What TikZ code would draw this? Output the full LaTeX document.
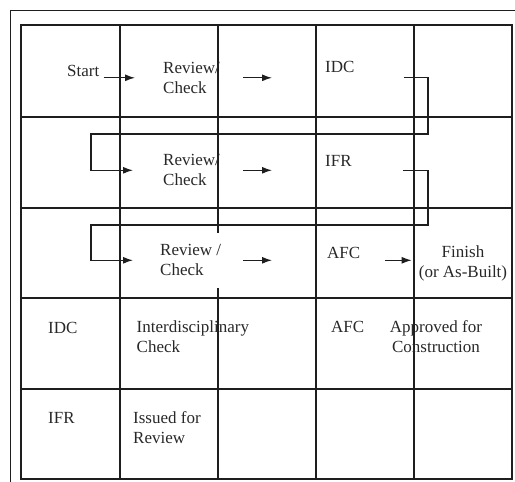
\documentclass[tikz,border=0pt]{standalone}
\usepackage{fontspec}
\setmainfont{Liberation Serif}
\usepackage{tikz}
\usetikzlibrary{arrows.meta}
\definecolor{gridgray}{RGB}{30,30,30}
\definecolor{textgray}{RGB}{40,40,40}

\begin{document}
\begin{tikzpicture}[x=1pt, y=-1pt, >={Latex[length=10pt,width=7pt]},
    lbl/.style={inner sep=0pt, text=textgray, font=\fontsize{17}{20}\selectfont, align=left, anchor=west},
    flow/.style={gridgray, line width=1.2pt, ->}]
    \useasboundingbox (0,0) rectangle (515,482);
    % Outer frame and table grid
    \draw[gridgray, line width=0.9pt] (515,10) -- (10,10) -- (10,482);
    \foreach \x in {120,218,316,414} \draw[gridgray, line width=1.2pt] (\x,25) -- (\x,479);
    \foreach \y in {117,208,298,389} \draw[gridgray, line width=1.2pt] (21,\y) -- (512,\y);
    \draw[gridgray, line width=2.4pt] (21,25) rectangle (512,479);

    % Flow rows
    \node[lbl] (start) at (67,70.5) {Start};
    \node[lbl] (rev1) at (163,77.8) {Review/\\Check};
    \node[lbl] (idc) at (325,66.5) {IDC};
    \node[lbl] (rev2) at (163,170.3) {Review/\\Check};
    \node[lbl] (ifr) at (325,160.5) {IFR};
    \node[lbl, fill=white, inner xsep=3pt, inner ysep=12pt] (rev3) at (157,260.3) {Review /\\Check};
    \node[lbl] (afc) at (327,252.5) {AFC};
    \node[lbl, align=center, anchor=center] (finish) at (463,263) {Finish\\(or As-Built)};

    % Legend rows
    \node[lbl] (idckey) at (48,327.5) {IDC};
    \node[lbl] (idctxt) at (136.5,336.3) {Interdisciplinary\\Check};
    \node[lbl] (afckey) at (331,326.5) {AFC};
    \node[lbl, align=center, anchor=center] (afctxt) at (436,336.3) {Approved for\\Construction};
    \node[lbl] (ifrkey) at (48,417.5) {IFR};
    \node[lbl] (ifrtxt) at (133,427.3) {Issued for\\Review};

    % Arrows
    \coordinate (turn1) at (428,134);
    \coordinate (back1) at (91,134);
    \coordinate (turn2) at (428,225);
    \coordinate (back2) at (91,225);
    \draw[flow, shorten <=4pt, shorten >=28pt] (start.east |- rev1.west) -- (rev1.west);
    \draw[flow, shorten <=23pt, shorten >=53pt] (rev1.east) -- (rev1.east -| idc.west);
    \draw[flow, shorten <=49pt, shorten >=30pt] (idc.east |- rev1.east) -| (turn1) -- (back1) |- (rev2.west);
    \draw[flow, shorten <=23pt, shorten >=53pt] (rev2.east) -- (rev2.east -| ifr.west);
    \draw[flow, shorten <=51pt, shorten >=24pt] (ifr.east |- rev2.east) -| (turn2) -- (back2) |- (rev3.west);
    \draw[flow, shorten <=19pt, shorten >=55pt] (rev3.east) -- (rev3.east -| afc.west);
    \draw[flow, shorten <=25pt, shorten >=7pt] (afc.east |- rev3.east) -- (rev3.east -| finish.west);
\end{tikzpicture}
\end{document}
